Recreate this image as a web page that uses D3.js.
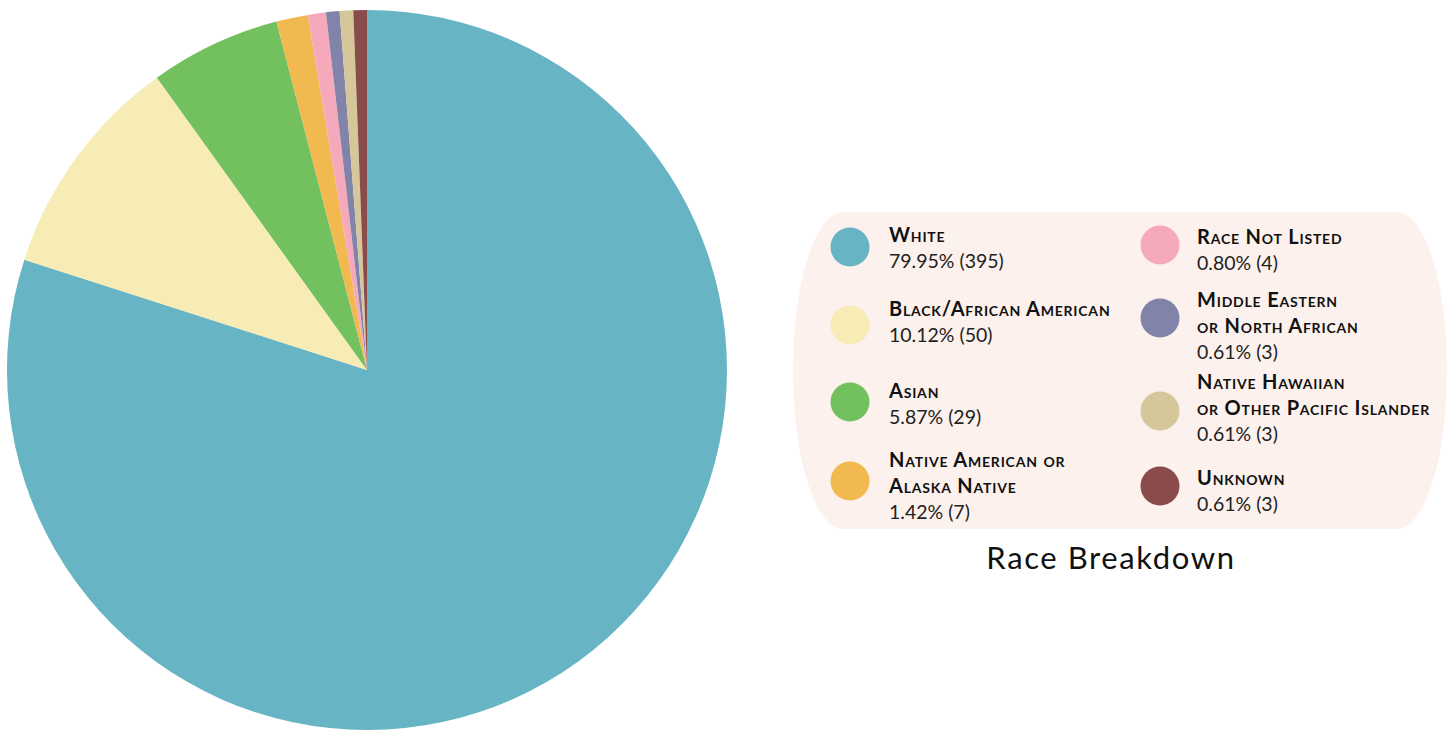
<!DOCTYPE html>
<html>
<head>
<meta charset="utf-8">
<script src="https://cdn.jsdelivr.net/npm/d3@7"></script>
<style>
  html, body { margin: 0; padding: 0; background: #ffffff; }
  svg { display: block; }
</style>
</head>
<body>
<svg id="chart" width="1452" height="730"></svg>
<script>
// ---- data ----
const categories = ["White", "Black/African American", "Asian", "Native American or Alaska Native",
  "Race Not Listed", "Middle Eastern or North African", "Native Hawaiian or Other Pacific Islander", "Unknown"];
const labelLines = [["White"], ["Black/African American"], ["Asian"], ["Native American or", "Alaska Native"],
  ["Race Not Listed"], ["Middle Eastern", "or North African"], ["Native Hawaiian", "or Other Pacific Islander"], ["Unknown"]];
const counts = [395, 50, 29, 7, 4, 3, 3, 3];
const percentLabels = ["79.95%", "10.12%", "5.87%", "1.42%", "0.80%", "0.61%", "0.61%", "0.61%"];
const colors = ["#67b4c4", "#f7ebb6", "#73c05f", "#f1b94f", "#f5a9bb", "#8283a9", "#d6c79b", "#8a4b4b"];
const title = "Race Breakdown";

// ---- layout ----
const pieCx = 367, pieCy = 370, pieR = 360;
const legendBox = { x: 793, y: 212, w: 654, h: 317, rx: 50, ry: 158 };
const colCircleX = [850, 1160];
const colTextX = [889, 1197];
const itemCol = [0, 0, 0, 0, 1, 1, 1, 1];
const itemBaseline = [242, 316, 398, 467, 244, 307, 389, 485];
const itemCircleY = [247, 325, 402, 481, 245, 318, 411, 486];
const lineH = 26;
const fontFam = "Lato, 'DejaVu Sans', sans-serif";

const svg = d3.select("#chart");

// ---- pie ----
const pie = d3.pie().sort(null).value(d => d).startAngle(0).endAngle(2 * Math.PI);
const arc = d3.arc().innerRadius(0).outerRadius(pieR);
svg.append("g")
  .attr("transform", `translate(${pieCx},${pieCy})`)
  .selectAll("path")
  .data(pie(counts))
  .join("path")
  .attr("d", arc)
  .attr("fill", (d, i) => colors[i]);

// ---- legend ----
svg.append("rect")
  .attr("x", legendBox.x).attr("y", legendBox.y)
  .attr("width", legendBox.w).attr("height", legendBox.h)
  .attr("rx", legendBox.rx).attr("ry", legendBox.ry)
  .attr("fill", "#fcf1ed");

const items = svg.append("g").selectAll("g")
  .data(categories)
  .join("g");

items.append("circle")
  .attr("cx", (d, i) => colCircleX[itemCol[i]])
  .attr("cy", (d, i) => itemCircleY[i])
  .attr("r", 19.5)
  .attr("fill", (d, i) => colors[i]);

items.each(function (d, i) {
  const g = d3.select(this);
  const x = colTextX[itemCol[i]];
  const y0 = itemBaseline[i];
  labelLines[i].forEach((ln, k) => {
    g.append("text")
      .attr("x", x).attr("y", y0 + k * lineH)
      .attr("font-family", fontFam)
      .attr("font-weight", 700)
      .attr("font-size", 20)
      .attr("letter-spacing", 0.8)
      .style("font-variant", "small-caps")
      .attr("fill", "#111")
      .text(ln);
  });
  g.append("text")
    .attr("x", x).attr("y", y0 + labelLines[i].length * lineH)
    .attr("font-family", fontFam)
    .attr("font-weight", 400)
    .attr("font-size", 19.5)
    .attr("fill", "#222")
    .text(`${percentLabels[i]} (${counts[i]})`);
});

svg.append("text")
  .attr("x", 1111).attr("y", 569)
  .attr("text-anchor", "middle")
  .attr("font-family", fontFam)
  .attr("font-size", 31)
  .attr("letter-spacing", 1.6)
  .attr("fill", "#111")
  .text(title);
</script>
</body>
</html>
